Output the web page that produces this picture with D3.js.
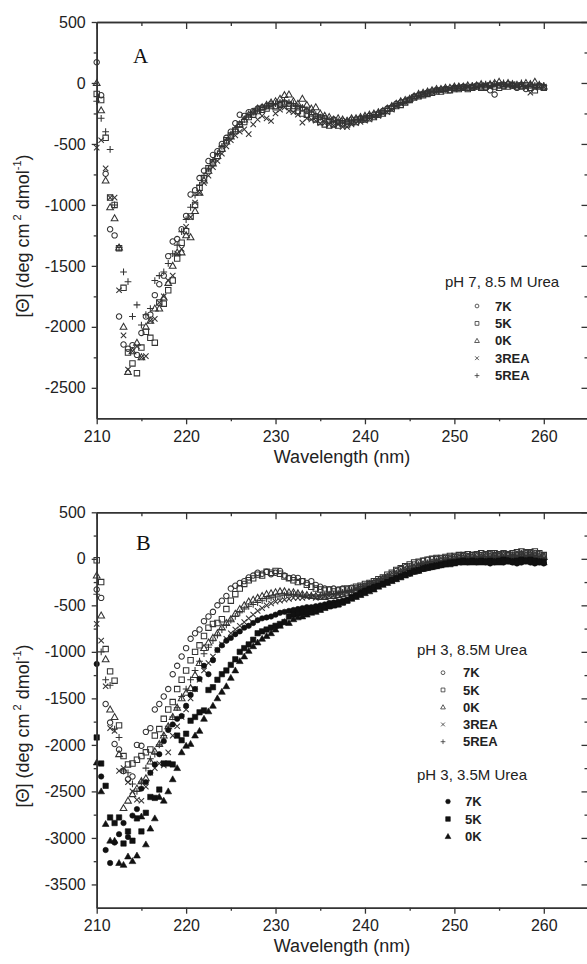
<!DOCTYPE html>
<html>
<head>
<meta charset="utf-8">
<script src="https://cdn.jsdelivr.net/npm/d3@7"></script>
<style>
  body { margin: 0; background: #fff; }
  svg { display: block; font-family: "Liberation Sans", Arial, sans-serif; }
</style>
</head>
<body>
<svg id="chart" width="587" height="964"></svg>
<script>
// wavelength grid of the CD scans (nm)
var wavelength = [
  210,210.5,211,211.5,212,212.5,213,213.5,214,214.5,
  215,215.5,216,216.5,217,217.5,218,218.5,219,219.5,
  220,220.5,221,221.5,222,222.5,223,223.5,224,224.5,
  225,225.5,226,226.5,227,227.5,228,228.5,229,229.5,
  230,230.5,231,231.5,232,232.5,233,233.5,234,234.5,
  235,235.5,236,236.5,237,237.5,238,238.5,239,239.5,
  240,240.5,241,241.5,242,242.5,243,243.5,244,244.5,
  245,245.5,246,246.5,247,247.5,248,248.5,249,249.5,
  250,250.5,251,251.5,252,252.5,253,253.5,254,254.5,
  255,255.5,256,256.5,257,257.5,258,258.5,259,259.5,
  260];

// ---- panel A : pH 7, 8.5 M urea ----
var a7K = [
  170,-100,-745,-1200,-1250,-1915,-2145,-2180,-2150,-2230,
  -2050,-1915,-1900,-1740,-1650,-1580,-1420,-1300,-1280,-1200,
  -1090,-915,-880,-780,-720,-640,-590,-560,-500,-450,
  -400,-330,-260,-270,-240,-230,-210,-200,-190,-170,
  -190,-170,-160,-170,-190,-200,-210,-230,-250,-270,
  -280,-290,-310,-300,-320,-310,-320,-300,-300,-290,
  -290,-270,-260,-250,-230,-210,-200,-170,-160,-150,
  -140,-110,-100,-90,-80,-70,-60,-55,-50,-60,
  -40,-40,-30,-40,-30,-20,-30,-40,-60,-95,
  -20,-30,-10,-20,-40,-30,-50,-20,-30,-20,
  -35];
var a5K = [
  -90,-140,-450,-940,-1000,-1355,-1680,-2210,-2300,-2380,
  -2170,-2040,-2090,-2130,-1800,-1810,-1700,-1620,-1440,-1310,
  -1215,-1095,-1000,-860,-780,-700,-650,-600,-540,-470,
  -430,-390,-340,-320,-280,-260,-230,-220,-210,-190,
  -200,-180,-170,-190,-210,-230,-250,-260,-280,-300,
  -320,-340,-350,-340,-350,-330,-340,-320,-320,-300,
  -300,-290,-280,-260,-250,-230,-210,-190,-180,-160,
  -140,-120,-110,-100,-90,-80,-70,-70,-60,-60,
  -50,-50,-40,-50,-40,-30,-40,-30,-20,-30,
  -40,-20,-30,-20,-30,-20,-20,-40,-60,-30,
  -40];
var a0K = [
  0,-225,-800,-1020,-1110,-1350,-2000,-2370,-2200,-2130,
  -2250,-2000,-1950,-1850,-1850,-1760,-1640,-1500,-1390,-1390,
  -1250,-1265,-1050,-900,-800,-720,-660,-600,-540,-480,
  -440,-380,-340,-300,-260,-240,-210,-200,-180,-160,
  -150,-130,-100,-95,-150,-170,-130,-180,-210,-200,
  -250,-270,-280,-300,-290,-300,-310,-290,-290,-280,
  -270,-260,-250,-240,-230,-210,-190,-170,-150,-140,
  -130,-110,-90,-80,-70,-60,-50,-50,-40,-40,
  -30,-30,-30,-20,-30,-20,-10,-20,-10,0,
  10,-10,0,-10,-20,-10,0,-10,10,-20,
  -30];
var a3REA = [
  -530,-470,-700,-940,-940,-1700,-2070,-2350,-2200,-2160,
  -2250,-2240,-1950,-1935,-1800,-1750,-1620,-1580,-1400,-1360,
  -1180,-1100,-980,-900,-820,-760,-690,-640,-580,-520,
  -470,-430,-400,-380,-420,-340,-300,-270,-290,-312,
  -250,-220,-200,-230,-240,-260,-325,-290,-300,-310,
  -330,-330,-340,-350,-340,-360,-360,-340,-330,-320,
  -310,-300,-280,-270,-250,-240,-220,-190,-170,-160,
  -140,-120,-110,-90,-80,-70,-60,-60,-50,-50,
  -40,-40,-40,-30,-40,-30,-20,-20,-30,-20,
  -10,-20,-20,-10,-30,-20,-40,-80,-40,-30,
  -30];
var a5REA = [
  -150,-290,-400,-545,-1000,-1350,-1550,-1630,-1915,-1820,
  -1985,-1900,-1850,-1620,-1580,-1550,-1480,-1400,-1330,-1220,
  -1120,-1020,-920,-840,-760,-700,-640,-580,-520,-470,
  -420,-380,-340,-300,-270,-240,-220,-200,-190,-180,
  -170,-160,-150,-160,-170,-190,-200,-220,-240,-260,
  -280,-290,-300,-310,-310,-320,-310,-310,-300,-290,
  -280,-270,-260,-240,-230,-210,-190,-180,-160,-150,
  -130,-110,-100,-90,-80,-70,-60,-50,-50,-40,
  -40,-30,-30,-30,-20,-30,-20,-10,-20,-10,
  -20,0,-10,-20,-10,0,-20,-10,-20,-10,
  -20];

// ---- panel B : pH 3, 8.5 M urea (open) ----
var b7K = [
  -330,-420,-1560,-1760,-1990,-2050,-2280,-2370,-2340,-2000,
  -2010,-1860,-1820,-1620,-1560,-1480,-1400,-1240,-1150,-1050,
  -960,-860,-800,-760,-670,-620,-570,-500,-450,-400,
  -320,-290,-260,-240,-200,-180,-150,-160,-140,-165,
  -150,-130,-180,-205,-200,-205,-240,-260,-240,-280,
  -300,-320,-330,-320,-330,-320,-330,-310,-310,-300,
  -290,-270,-260,-240,-210,-190,-160,-130,-110,-90,
  -80,-60,-40,-20,-10,-5,0,5,10,15,
  20,25,30,30,40,45,40,45,50,40,
  45,50,45,45,50,55,60,65,60,50,
  30];
var b5K = [
  -15,-250,-970,-1210,-1310,-1790,-2120,-2210,-2200,-2160,
  -2120,-2080,-2050,-1900,-1830,-1720,-1620,-1540,-1400,-1300,
  -1200,-1090,-1000,-930,-830,-740,-700,-690,-650,-540,
  -450,-380,-320,-270,-230,-210,-170,-180,-140,-150,
  -130,-160,-190,-210,-230,-250,-240,-280,-300,-320,
  -330,-340,-330,-350,-340,-330,-320,-320,-300,-290,
  -270,-260,-240,-220,-200,-170,-150,-120,-100,-80,
  -60,-40,-30,-20,-10,0,10,10,20,30,
  30,40,40,50,40,50,60,50,60,60,
  50,60,50,60,70,80,70,70,80,60,
  40];
var b0K = [
  -180,-610,-1080,-1620,-1700,-2100,-2680,-2600,-2530,-2470,
  -2390,-2360,-2180,-2070,-1990,-1900,-1800,-1700,-1600,-1500,
  -1440,-1390,-1250,-1120,-960,-900,-850,-800,-740,-690,
  -650,-590,-540,-500,-460,-440,-420,-400,-380,-370,
  -360,-350,-350,-360,-360,-370,-380,-390,-400,-400,
  -410,-410,-400,-400,-390,-380,-370,-360,-340,-320,
  -300,-280,-260,-240,-220,-200,-180,-160,-140,-120,
  -100,-90,-70,-60,-50,-40,-30,-20,-10,0,
  0,10,10,20,20,30,20,30,30,40,
  30,40,40,30,40,50,40,50,40,30,
  20];
var b3REA = [
  -700,-880,-1370,-1820,-1850,-2280,-2250,-2400,-2500,-2590,
  -2600,-2450,-2300,-2250,-2200,-2220,-2080,-1900,-1800,-1700,
  -1620,-1500,-1400,-1300,-1200,-1120,-1050,-980,-920,-860,
  -800,-760,-720,-680,-640,-600,-560,-530,-500,-480,
  -460,-450,-440,-430,-420,-420,-420,-410,-410,-420,
  -410,-400,-400,-390,-380,-370,-360,-350,-330,-310,
  -300,-280,-260,-240,-220,-200,-190,-170,-150,-130,
  -110,-100,-80,-70,-60,-50,-40,-30,-20,-10,
  -10,0,0,10,10,20,20,10,20,30,
  20,30,30,20,30,40,30,40,30,20,
  10];
var b5REA = [
  -380,-1000,-1300,-1360,-1830,-1920,-2280,-2300,-2420,-2500,
  -2400,-2250,-2150,-2100,-2000,-1900,-1800,-1700,-1600,-1480,
  -1400,-1300,-1200,-1100,-1020,-950,-880,-820,-760,-710,
  -660,-620,-580,-540,-510,-490,-470,-450,-430,-420,
  -410,-400,-390,-390,-380,-380,-390,-390,-390,-400,
  -390,-390,-380,-380,-370,-360,-350,-340,-320,-300,
  -290,-270,-250,-230,-210,-200,-180,-160,-140,-120,
  -110,-90,-80,-60,-50,-40,-30,-20,-20,-10,
  0,0,10,10,20,10,20,30,20,30,
  30,20,30,40,30,40,30,40,30,20,
  10];

// ---- panel B : pH 3, 3.5 M urea (filled) ----
var c7K = [
  -1130,-2340,-3130,-3270,-3050,-2960,-2840,-2990,-2760,-2690,
  -2470,-2400,-2300,-2210,-2100,-1960,-1840,-1780,-1720,-1690,
  -1580,-1460,-1400,-1290,-1150,-1240,-1090,-980,-930,-880,
  -850,-810,-780,-740,-720,-690,-660,-640,-630,-620,
  -600,-580,-570,-560,-550,-540,-530,-520,-520,-510,
  -500,-490,-475,-470,-460,-450,-440,-410,-390,-360,
  -340,-320,-300,-290,-270,-250,-230,-210,-190,-170,
  -160,-140,-130,-110,-100,-90,-80,-70,-60,-50,
  -40,-30,-30,-40,-30,-40,-30,-40,-50,-40,
  -30,-40,-30,-40,-50,-40,-30,-40,-50,-40,
  -50];
var c5K = [
  -1920,-2200,-2440,-2780,-2840,-2780,-3060,-2930,-3030,-2790,
  -2930,-2730,-2560,-2570,-2480,-2200,-2200,-2210,-1900,-1950,
  -1880,-1740,-1700,-1650,-1630,-1410,-1380,-1300,-1240,-1200,
  -1140,-1080,-1000,-960,-920,-870,-800,-780,-760,-740,
  -720,-700,-680,-620,-600,-590,-580,-570,-560,-550,
  -540,-520,-510,-500,-490,-470,-450,-420,-400,-380,
  -350,-330,-310,-290,-270,-250,-230,-210,-190,-170,
  -150,-130,-120,-100,-90,-80,-70,-60,-50,-40,
  -40,-30,-20,-30,-20,-30,-20,-30,-20,-30,
  -20,-10,-20,-30,-20,-10,-20,-10,-20,-30,
  -30];
var c0K = [
  -2190,-2500,-2850,-3030,-3030,-3270,-3290,-3200,-3250,-3190,
  -2770,-3070,-2900,-2790,-2560,-2600,-2500,-2370,-2250,-2080,
  -2010,-1990,-1900,-1850,-1720,-1640,-1580,-1500,-1430,-1370,
  -1280,-1200,-1100,-1050,-990,-940,-900,-860,-830,-800,
  -760,-720,-680,-690,-650,-630,-620,-600,-580,-570,
  -550,-530,-510,-500,-490,-470,-450,-430,-410,-390,
  -370,-350,-330,-300,-280,-260,-240,-220,-200,-180,
  -160,-140,-130,-110,-100,-90,-80,-70,-60,-60,
  -50,-40,-40,-30,-40,-30,-40,-30,-40,-30,
  -40,-30,-20,-30,-40,-30,-20,-30,-40,-30,
  -40];

// axis ticks
var xTicks = [210, 220, 230, 240, 250, 260];
var xMinor = [215, 225, 235, 245, 255, 265];
var yTicksA = [-2500, -2000, -1500, -1000, -500, 0, 500];
var yMinorA = [-2250, -1750, -1250, -750, -250, 250];
var yTicksB = [-3500, -3000, -2500, -2000, -1500, -1000, -500, 0, 500];
var yMinorB = [-3250, -2750, -2250, -1750, -1250, -750, -250, 250];

var labelsA = ["7K", "5K", "0K", "3REA", "5REA"];
var labelsB = ["7K", "5K", "0K"];

////////////////////////////////////////////////////////////////////////

var svg = d3.select("#chart");
var ink = "#333";

// marker outline, s is the half size
function markerPath(type, s) {
  if (type == "circle")
    return "M" + s + ",0A" + s + "," + s + " 0 1,1 " + (-s) + ",0A" + s + "," + s + " 0 1,1 " + s + ",0Z";
  if (type == "square")
    return "M" + (-s) + "," + (-s) + "H" + s + "V" + s + "H" + (-s) + "Z";
  if (type == "triangle")
    return "M0," + (-s * 1.3) + "L" + (s * 1.25) + "," + (s * 0.9) + "L" + (-s * 1.25) + "," + (s * 0.9) + "Z";
  if (type == "times")
    return "M" + (-s) + "," + (-s) + "L" + s + "," + s + "M" + (-s) + "," + s + "L" + s + "," + (-s);
  // plus
  var p = s * 1.25;
  return "M" + (-p) + ",0H" + p + "M0," + (-p) + "V" + p;
}

function drawMarker(g, type, filled, s, x, y, w) {
  g.append("path")
    .attr("transform", "translate(" + x + "," + y + ")")
    .attr("d", markerPath(type, s))
    .attr("fill", filled ? "#111" : "none")
    .attr("stroke", filled ? "#111" : "#333")
    .attr("stroke-width", filled ? 0.6 : w);
}

var x = d3.scaleLinear().domain([210, 265]).range([96.7, 588.5]);

function drawPanel(p) {
  var g = svg.append("g");
  var y = d3.scaleLinear().domain(p.yDomain).range([p.bottom, p.top]);

  // series
  p.series.forEach(function (s) {
    var sg = g.append("g");
    s.values.forEach(function (v, i) {
      drawMarker(sg, s.type, s.filled, 2.7, x(wavelength[i]), y(v), 1.05);
    });
  });

  // axes
  function styleAxis(a) {
    a.selectAll("path.domain").attr("stroke", ink).attr("stroke-width", 1.6);
    a.selectAll(".tick line").attr("stroke", ink).attr("stroke-width", 1.3);
    a.selectAll(".tick text").attr("fill", "#222").style("font-size", "16px")
      .style("font-family", "'Liberation Sans', Arial, sans-serif");
  }

  var ax = g.append("g").attr("transform", "translate(0," + p.bottom + ")")
    .call(d3.axisBottom(x).tickValues(xTicks).tickSize(6).tickSizeOuter(0).tickPadding(6).tickFormat(d3.format("d")));
  styleAxis(ax);
  var axm = g.append("g").attr("transform", "translate(0," + p.bottom + ")")
    .call(d3.axisBottom(x).tickValues(xMinor).tickSize(3).tickSizeOuter(0).tickFormat(""));
  styleAxis(axm);

  var at = g.append("g").attr("transform", "translate(0," + p.top + ")")
    .call(d3.axisTop(x).tickValues(xTicks).tickSize(-7).tickSizeOuter(0).tickFormat(""));
  styleAxis(at);
  var atm = g.append("g").attr("transform", "translate(0," + p.top + ")")
    .call(d3.axisTop(x).tickValues(xMinor).tickSize(-4).tickSizeOuter(0).tickFormat(""));
  styleAxis(atm);

  var ay = g.append("g").attr("transform", "translate(" + x(210) + ",0)")
    .call(d3.axisLeft(y).tickValues(p.yTicks).tickSize(5).tickSizeOuter(0).tickPadding(6).tickFormat(d3.format("d")));
  styleAxis(ay);
  ay.selectAll(".tick text").text(function (d) { return d < 0 ? "-" + (-d) : d; });
  var aym = g.append("g").attr("transform", "translate(" + x(210) + ",0)")
    .call(d3.axisLeft(y).tickValues(p.yMinor).tickSize(3).tickSizeOuter(0).tickFormat(""));
  styleAxis(aym);

  var ar = g.append("g").attr("transform", "translate(" + x(265) + ",0)")
    .call(d3.axisRight(y).tickValues(p.yTicks).tickSize(-7).tickSizeOuter(0).tickFormat(""));
  styleAxis(ar);
  var arm = g.append("g").attr("transform", "translate(" + x(265) + ",0)")
    .call(d3.axisRight(y).tickValues(p.yMinor).tickSize(-4).tickSizeOuter(0).tickFormat(""));
  styleAxis(arm);

  // panel letter
  g.append("text").attr("x", p.letterX).attr("y", p.letterY)
    .style("font-family", "'Liberation Serif', 'Times New Roman', serif")
    .style("font-size", p.letterSize + "px").attr("fill", "#111").text(p.letter);

  // axis titles
  g.append("text").attr("x", 342).attr("y", p.xTitleY).attr("text-anchor", "middle")
    .style("font-size", "18px").attr("fill", "#222").text("Wavelength (nm)");

  var yt = g.append("text")
    .attr("transform", "translate(29," + p.yTitleY + ") rotate(-90)")
    .attr("text-anchor", "middle").style("font-size", "18px").attr("fill", "#222");
  yt.append("tspan").text("[\u0398] (deg cm");
  yt.append("tspan").attr("dy", -8).style("font-size", "11px").text(" 2");
  yt.append("tspan").attr("dy", 8).text(" dmol");
  yt.append("tspan").attr("dy", -8).style("font-size", "11px").text("-1");
  yt.append("tspan").attr("dy", 8).text(")");

  // legends
  p.legends.forEach(function (L) {
    g.append("text").attr("x", L.titleX).attr("y", L.titleY)
      .style("font-size", "15px").attr("fill", "#222").text(L.title);
    L.items.forEach(function (it, i) {
      var iy = L.itemY + i * L.step;
      drawMarker(g, it.type, it.filled, it.filled ? 2.3 : 1.9, L.symX, iy, 0.8);
      g.append("text").attr("x", L.textX).attr("y", iy).attr("dy", "0.36em")
        .style("font-size", "13px").style("font-weight", "bold").attr("fill", "#222").text(it.label);
    });
  });
}

var openTypes = ["circle", "square", "triangle", "times", "plus"];
var filledTypes = ["circle", "square", "triangle"];

drawPanel({
  top: 22, bottom: 418.3, yDomain: [-2750, 500],
  yTicks: yTicksA, yMinor: yMinorA,
  series: [a7K, a5K, a0K, a3REA, a5REA].map(function (v, i) {
    return { values: v, type: openTypes[i], filled: false };
  }),
  letter: "A", letterX: 133, letterY: 63, letterSize: 21,
  xTitleY: 463,
  yTitleY: 236,
  legends: [{
    title: "pH 7, 8.5 M Urea", titleX: 445, titleY: 287,
    symX: 477, textX: 495, itemY: 306, step: 17.4,
    items: labelsA.map(function (l, i) { return { label: l, type: openTypes[i], filled: false }; })
  }]
});

drawPanel({
  top: 512.3, bottom: 907.7, yDomain: [-3750, 500],
  yTicks: yTicksB, yMinor: yMinorB,
  series: [b7K, b5K, b0K, b3REA, b5REA].map(function (v, i) {
    return { values: v, type: openTypes[i], filled: false };
  }).concat([c7K, c5K, c0K].map(function (v, i) {
    return { values: v, type: filledTypes[i], filled: true };
  })),
  letter: "B", letterX: 136, letterY: 550, letterSize: 22,
  xTitleY: 952,
  yTitleY: 726,
  legends: [{
    title: "pH 3, 8.5M Urea", titleX: 417, titleY: 655,
    symX: 443, textX: 463, itemY: 672.7, step: 17.25,
    items: labelsA.map(function (l, i) { return { label: l, type: openTypes[i], filled: false }; })
  }, {
    title: "pH 3, 3.5M Urea", titleX: 417, titleY: 780,
    symX: 448, textX: 465, itemY: 801.5, step: 17.5,
    items: labelsB.map(function (l, i) { return { label: l, type: filledTypes[i], filled: true }; })
  }]
});
</script>
</body>
</html>
